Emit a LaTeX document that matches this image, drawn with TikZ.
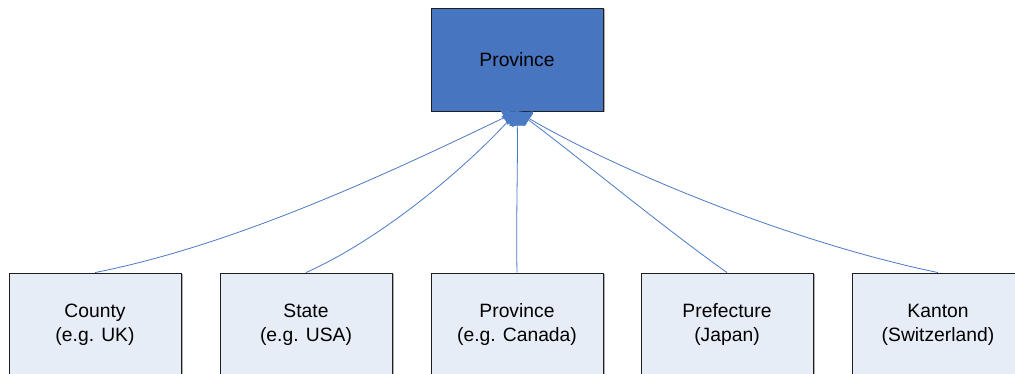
\documentclass[tikz,border=0pt]{standalone}
\usepackage{fontspec}
\setmainfont{Liberation Sans}
\usetikzlibrary{arrows.meta,shadows}
\definecolor{topfill}{RGB}{71,117,192}
\definecolor{leaffill}{RGB}{231,237,247}
\definecolor{linkblue}{RGB}{74,122,196}
\definecolor{edge}{RGB}{30,30,30}
\begin{document}
\begin{tikzpicture}[x=1pt,y=-1pt,
  box/.style={draw=edge,line width=0.9pt,minimum width=172pt,minimum height=103pt,
    inner sep=0pt,align=center,font=\fontsize{19.3}{24}\selectfont,
    drop shadow={shadow xshift=1.5pt,shadow yshift=-1.5pt,fill=black!45,opacity=0.7}},
  rootbox/.style={box,fill=topfill},
  leafbox/.style={box,fill=leaffill},
  link/.style={draw=linkblue,line width=0.8pt,-{Latex[length=15pt,width=17pt,round]}}]
\useasboundingbox (0,0) rectangle (1015,374);
\node[rootbox] (root) at (517,59.5) {Province};
\node[leafbox] (county) at (95,324.5) {County\\(e.g. UK)};
\node[leafbox] (state) at (306,324.5) {State\\(e.g. USA)};
\node[leafbox] (prov) at (517,324.5) {Province\\(e.g. Canada)};
\node[leafbox] (pref) at (727,324.5) {Prefecture\\(Japan)};
\node[leafbox] (kanton) at (938,324.5) {Kanton\\(Switzerland)};
\draw[link] (county.north) .. controls (235,245) and (387,174) .. (root.south);
\draw[link] (state.north) .. controls (383,238) and (465,168) .. (root.south);
\draw[link] (prov.north) .. controls (516,220) and (518,160) .. (root.south);
\draw[link] (pref.north) .. controls (660,225) and (572,152) .. (root.south);
\draw[link] (kanton.north) .. controls (790,242) and (617,170) .. (root.south);
\end{tikzpicture}
\end{document}
